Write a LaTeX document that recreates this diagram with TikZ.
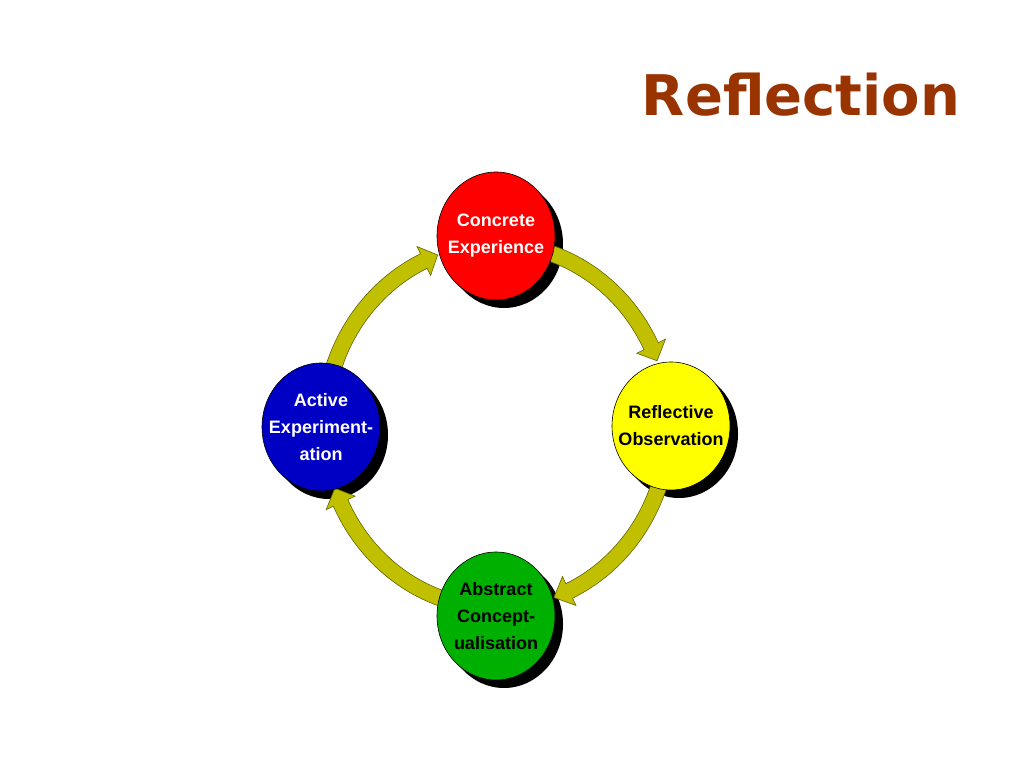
\documentclass[tikz,border=0pt]{standalone}
\usepackage{fontspec}
\setmainfont{Liberation Sans}
\newfontfamily\titlefont{DejaVu Sans}
\usetikzlibrary{shapes.geometric}
\definecolor{titlebrown}{RGB}{153,51,0}
\definecolor{arrowolive}{RGB}{192,192,0}
\definecolor{arrowedge}{RGB}{100,100,0}
\definecolor{cered}{RGB}{255,0,0}
\definecolor{royellow}{RGB}{255,255,0}
\definecolor{acgreen}{RGB}{0,176,0}
\definecolor{aeblue}{RGB}{0,0,196}
\newcommand{\cycarrow}[3]{%
  \draw[cyclearrow,shift={(C)}]
    ({180*cos(#1)},{190*sin(#1)})
    arc[start angle=#1, end angle=#2, x radius=180pt, y radius=190pt]
    -- ({188*cos(#2)},{198*sin(#2)})
    -- ({172*cos(#3)},{182*sin(#3)})
    -- ({156*cos(#2)},{166*sin(#2)})
    -- ({164*cos(#2)},{174*sin(#2)})
    arc[start angle=#2, end angle=#1, x radius=164pt, y radius=174pt]
    -- cycle;}
\begin{document}
\begin{tikzpicture}[x=1pt,y=1pt,
  bubble/.style={ellipse, draw=black, line width=0.6pt, minimum width=118pt,
    minimum height=128pt, inner sep=0pt},
  bubbletext/.style={align=center, inner sep=0pt,
    font=\bfseries\fontsize{18}{27}\selectfont},
  shadowfill/.style={fill=black},
  cyclearrow/.style={fill=arrowolive, draw=arrowedge, line width=0.6pt, line join=miter}]
\fill[white] (0,0) rectangle (1024,768);
\useasboundingbox (0,0) rectangle (1024,768);
\coordinate (C) at (496.5,342);
\coordinate (cR) at (496,532);
\coordinate (cY) at (671,342);
\coordinate (cG) at (496,152);
\coordinate (cB) at (321,341);
% title
\node[font=\titlefont\bfseries\fontsize{56}{60}\selectfont, text=titlebrown,
  anchor=base, inner sep=0pt] (title) at (801,652) {Reflection};
% shadows
\foreach \c in {cR,cY,cG,cB}
  \fill[shadowfill] ([shift={(8,-8)}]\c) ellipse [x radius=59pt, y radius=64pt];
% arrows
\cycarrow{75}{26}{21}
\cycarrow{-16}{-65}{-70.5}
\cycarrow{-104}{-155}{-160}
\cycarrow{165}{115}{110}
% circles
\node[bubble, fill=cered] (ce) at (cR) {};
\node[bubble, fill=royellow] (ro) at (cY) {};
\node[bubble, fill=acgreen] (ac) at (cG) {};
\node[bubble, fill=aeblue] (ae) at (cB) {};
\node[bubbletext, text=white] (ceText) at (ce.center) {Concrete\\Experience};
\node[bubbletext, text=black] (roText) at (ro.center) {Reflective\\Observation};
\node[bubbletext, text=black] (acText) at (ac.center) {Abstract\\Concept-\\ualisation};
\node[bubbletext, text=white] (aeText) at (ae.center) {Active\\Experiment-\\ation};
\end{tikzpicture}
\end{document}
